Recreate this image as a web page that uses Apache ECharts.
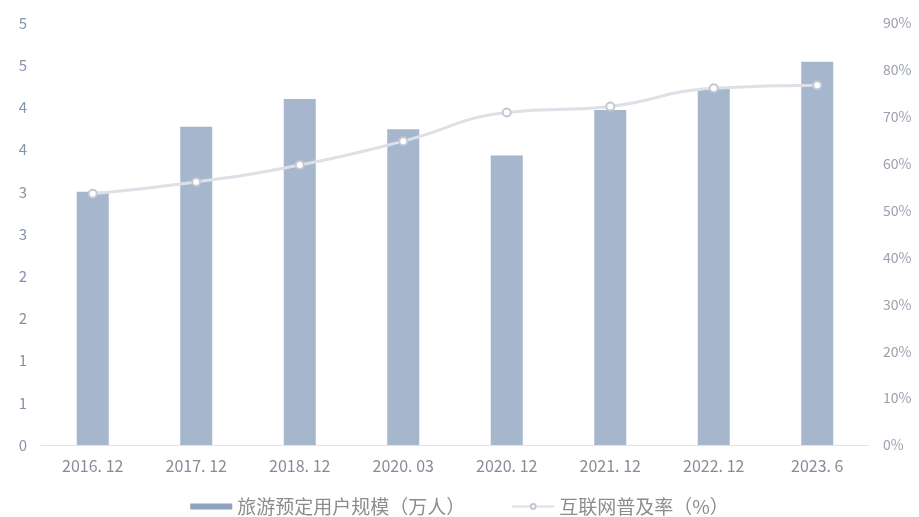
<!DOCTYPE html>
<html>
<head>
<meta charset="utf-8">
<script src="https://cdn.jsdelivr.net/npm/echarts@6/dist/echarts.min.js"></script>
<style>
  html, body { margin: 0; padding: 0; background: #ffffff; }
  #chart { width: 919px; height: 517px; }
</style>
</head>
<body>
<div id="chart"></div>
<script>
// Periods on the category axis
const periods = ['2016. 12', '2017. 12', '2018. 12', '2020. 03', '2020. 12', '2021. 12', '2022. 12', '2023. 6'];
// Travel booking users (bars, left axis)
const bookingUsers = [3.0, 3.77, 4.1, 3.74, 3.43, 3.97, 4.22, 4.54];
// Internet penetration rate in % (line, right axis)
const penetration = [53.6, 56.1, 59.7, 64.8, 70.9, 72.2, 76.1, 76.7];

const barName = '旅游预定用户规模（万人）';
const lineName = '互联网普及率（%）';

const font = '"Noto Sans CJK SC", "Noto Sans", sans-serif';
const axisText = { color: '#8593a8', fontSize: 15, fontFamily: font };

const chart = echarts.init(document.getElementById('chart'));
chart.setOption({
  backgroundColor: '#ffffff',
  animation: false,
  grid: { left: 41, right: 50, top: 23, bottom: 72 },
  legend: {
    left: 'center',
    top: 492,
    itemGap: 46,
    textStyle: { color: '#8c8c8c', fontSize: 19, fontFamily: font },
    data: [
      { name: barName, icon: 'rect', itemStyle: { color: '#8fa2bd' } },
      { name: lineName }
    ],
    itemWidth: 42,
    itemHeight: 6
  },
  xAxis: {
    type: 'category',
    data: periods,
    axisLine: { lineStyle: { color: '#e3e3e3', width: 1 } },
    axisTick: { show: false },
    axisLabel: { margin: 13, fontSize: 16, color: '#858c99', fontFamily: font }
  },
  yAxis: [
    {
      type: 'value',
      min: 0,
      max: 5,
      interval: 0.5,
      splitLine: { show: false },
      axisLine: { show: false },
      axisTick: { show: false },
      axisLabel: Object.assign({ margin: 14, formatter: v => String(Math.round(v)) }, axisText)
    },
    {
      type: 'value',
      min: 0,
      max: 90,
      interval: 10,
      splitLine: { show: false },
      axisLine: { show: false },
      axisTick: { show: false },
      axisLabel: Object.assign({ margin: 14, formatter: '{value}%' }, axisText, { fontSize: 14, color: '#9aa1ad' })
    }
  ],
  series: [
    {
      name: barName,
      type: 'bar',
      data: bookingUsers,
      barWidth: 32,
      itemStyle: { color: '#a5b6cd' }
    },
    {
      name: lineName,
      type: 'line',
      yAxisIndex: 1,
      data: penetration,
      smooth: true,
      symbol: 'emptyCircle',
      symbolSize: 8,
      lineStyle: { color: '#dde0e6', width: 3 },
      itemStyle: { color: '#c3c9d2', borderColor: '#c3c9d2', borderWidth: 1.5 }
    }
  ]
});
</script>
</body>
</html>
